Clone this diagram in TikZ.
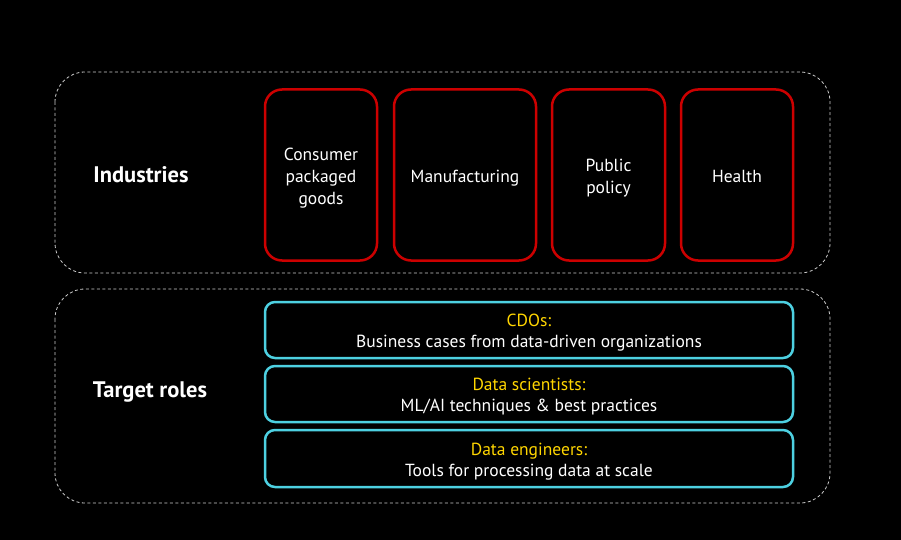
\documentclass[tikz,border=0pt]{standalone}
\usepackage{fontspec}
\setmainfont{PT Sans}
\definecolor{rolecyan}{RGB}{77,208,225}
\definecolor{indred}{RGB}{204,0,0}
\definecolor{hdyellow}{RGB}{255,214,0}
\begin{document}
\begin{tikzpicture}[x=1pt,y=-1pt,
  group/.style={draw=black!20, line width=0.8pt, dash pattern=on 3pt off 2.5pt, rounded corners=30pt},
  ind/.style={draw=indred, line width=2.5pt, rounded corners=17pt, inner sep=0pt},
  role/.style={draw=rolecyan, line width=2.5pt, rounded corners=10pt, inner sep=0pt},
  indtext/.style={text=white, align=center, font=\fontsize{17.5}{22}\selectfont, inner sep=0pt, yshift=-3pt},
  roletext/.style={text=white, align=center, font=\fontsize{17.5}{21}\selectfont, inner sep=0pt, yshift=-3pt},
  grouplabel/.style={text=white, font=\fontsize{22.5}{26}\selectfont\bfseries}]
\fill[black] (0,0) rectangle (901,540);
\useasboundingbox (0,0) rectangle (901,540);
\draw[group] (55,72) rectangle (830,273);
\draw[group] (55,289) rectangle (830,503);
\node[grouplabel] (lind) at (141,175) {Industries};
\node[grouplabel] (lrol) at (150,392) {Target roles};
\node[ind, minimum width=112pt, minimum height=171pt] (cpg) at (321,175) {};
\node[ind, minimum width=142pt, minimum height=171pt] (man) at (465,175) {};
\node[ind, minimum width=113pt, minimum height=171pt] (pub) at (608.5,175) {};
\node[ind, minimum width=112pt, minimum height=171pt] (hea) at (737,175) {};
\node[indtext] (cpgt) at (cpg.center) {Consumer\\packaged\\goods};
\node[indtext] (mant) at (man.center) {Manufacturing};
\node[indtext] (pubt) at (pub.center) {Public\\policy};
\node[indtext, yshift=2pt] (heat) at (hea.center) {Health};
\node[role, minimum width=528pt, minimum height=56pt] (cdo) at (529,330) {};
\node[role, minimum width=528pt, minimum height=56pt] (ds) at (529,394) {};
\node[role, minimum width=528pt, minimum height=57pt] (de) at (529,458.5) {};
\node[roletext] (cdot) at (cdo.center) {{\color{hdyellow}CDOs:}\\Business cases from data-driven organizations};
\node[roletext] (dst) at (ds.center) {{\color{hdyellow}Data scientists:}\\ML/AI techniques \& best practices};
\node[roletext] (det) at (de.center) {{\color{hdyellow}Data engineers:}\\Tools for processing data at scale};
\end{tikzpicture}
\end{document}
